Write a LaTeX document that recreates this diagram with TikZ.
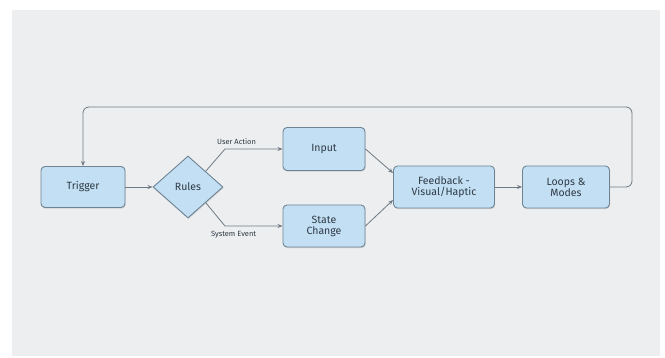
\documentclass[tikz,border=0pt]{standalone}
\usepackage{fontspec}
\setmainfont{Fira Sans}
\usetikzlibrary{shapes.geometric,arrows.meta,calc,shadows}
\definecolor{bgc}{HTML}{ECEEF0}
\definecolor{boxfill}{HTML}{C3DFF4}
\definecolor{boxline}{HTML}{6E8494}
\definecolor{linec}{HTML}{6F7A84}
\definecolor{txt}{HTML}{2E3A44}
\tikzset{
  boxnode/.style={draw=boxline, line width=0.9pt, fill=boxfill, rounded corners=4pt,
    align=center, text=txt, font=\fontsize{10.5}{12}\selectfont, inner sep=0pt,
    drop shadow={shadow xshift=0.6pt, shadow yshift=-1.2pt, opacity=0.25}},
  decnode/.style={draw=boxline, line width=0.9pt, fill=boxfill, diamond, aspect=1.13,
    text=txt, font=\fontsize{10.5}{12}\selectfont, inner sep=0pt,
    drop shadow={shadow xshift=0.6pt, shadow yshift=-1.2pt, opacity=0.25}},
  conn/.style={draw=linec, line width=0.8pt, -{Stealth[length=5pt,width=4pt]}},
  lbl/.style={font=\fontsize{7.5}{9}\selectfont, text=txt}
}
\begin{document}
\begin{tikzpicture}[x=1pt,y=-1pt]
\useasboundingbox (0,0) rectangle (665,358);
\fill[white] (0,0) rectangle (665,358);
\fill[bgc] (12,10) rectangle (660,356);

\node[boxnode, minimum width=84pt, minimum height=41pt] (trig) at (83,187) {Trigger};
\node[decnode, minimum width=70pt, minimum height=62pt] (rules) at (188,187) {Rules};
\node[boxnode, minimum width=82pt, minimum height=43pt] (input) at (324,149) {Input};
\node[boxnode, minimum width=82pt, minimum height=42pt] (state) at (324,226) {State\\[-1pt]Change};
\node[boxnode, minimum width=101pt, minimum height=42pt] (fb) at (444,187) {Feedback -\\[-1pt]Visual/Haptic};
\node[boxnode, minimum width=87pt, minimum height=42pt] (loops) at (566,187) {Loops \&\\[-1pt]Modes};

\coordinate (ua) at (225,149);
\coordinate (se) at (225,226);
\coordinate (topr) at (632,107);
\coordinate (topl) at (83,107);

\draw[conn] (trig.east) -- (rules.west);
\draw[conn] ($(rules.north)!0.5!(rules.east)$) -- (ua) -- node[lbl, above=1pt, pos=0.2] (ual) {User Action} (input.west);
\draw[conn] ($(rules.south)!0.5!(rules.east)$) -- (se) -- node[lbl, below=2pt, pos=0.15] (sel) {System Event} (state.west);
\draw[conn] (input.east) -- ($(fb.west)+(0,-14)$);
\draw[conn] (state.east) -- ($(fb.west)+(0,13)$);
\draw[conn] (fb.east) -- (loops.west);
\draw[conn, rounded corners=6pt] (loops.east) -- (loops.east -| topr) -- (topr) -- (topl) -- (trig.north);
\end{tikzpicture}
\end{document}
